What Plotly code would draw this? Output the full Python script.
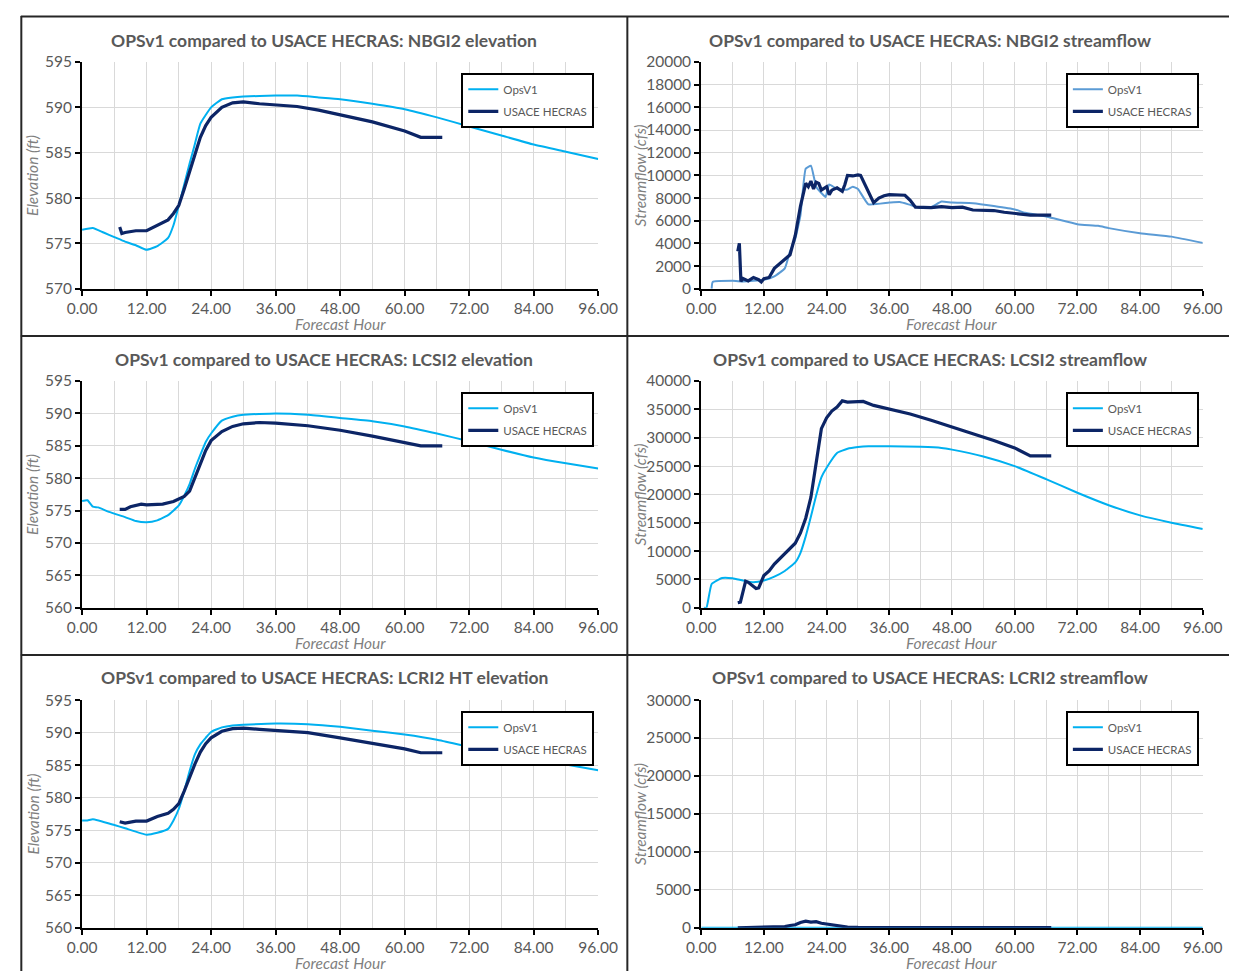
import plotly.graph_objects as go

W, H = 1249, 979

# ---------------- DATA ----------------
# NBGI2 elevation
nbgi2_elev_ops_h = [0, 2, 4, 6, 8, 10, 12, 14, 16, 17, 18, 19, 20, 21, 22, 24, 26, 28, 30, 36, 40, 44, 48, 54, 60, 66, 72, 78, 84, 90, 96]
nbgi2_elev_ops = [576.5, 576.7, 576.2, 575.7, 575.2, 574.8, 574.3, 574.7, 575.6, 577.0, 579.2, 581.5, 583.8, 586.0, 588.2, 590.0, 590.9, 591.1, 591.2, 591.3, 591.3, 591.1, 590.9, 590.4, 589.8, 588.9, 587.9, 586.9, 585.9, 585.1, 584.3]
nbgi2_elev_hec_h = [7, 7.4, 8, 10, 12, 14, 16, 17, 18, 19, 20, 21, 22, 23, 24, 26, 28, 30, 33, 36, 40, 44, 48, 54, 60, 63, 67]
nbgi2_elev_hec = [576.8, 576.1, 576.2, 576.4, 576.4, 577.0, 577.6, 578.3, 579.2, 581.0, 582.8, 584.8, 586.7, 588.0, 588.9, 590.0, 590.5, 590.6, 590.4, 590.3, 590.1, 589.7, 589.2, 588.4, 587.4, 586.7, 586.7]

# NBGI2 streamflow
nbgi2_q_ops_h = [2, 2.2, 6, 8, 10, 12, 14, 16, 17, 18, 19, 20, 21, 22, 23, 23.8, 24.5, 26, 28, 29, 30, 32, 36, 38, 40, 42, 44, 46, 48, 52, 56, 60, 62, 66, 68, 72, 76, 78, 84, 90, 96]
nbgi2_q_ops = [0, 600, 700, 650, 700, 800, 1100, 1800, 3300, 4400, 6500, 10600, 10850, 9000, 8450, 8100, 9200, 8800, 8750, 9000, 8800, 7450, 7600, 7650, 7400, 7150, 7200, 7700, 7600, 7550, 7300, 7000, 6700, 6380, 6150, 5700, 5550, 5350, 4900, 4600, 4050]
nbgi2_q_hec_h = [7, 7.3, 7.6, 8, 9, 10, 11, 11.5, 12, 13, 14, 15, 16, 17, 18, 19, 20, 20.5, 21, 21.5, 22, 22.5, 23, 24, 24.5, 25, 26, 27, 27.5, 28, 29, 30, 30.5, 31, 33, 34, 35, 36, 39, 40, 41, 44, 46, 48, 50, 52, 56, 58, 60, 62, 63, 67]
nbgi2_q_hec = [3300, 4000, 650, 900, 700, 1000, 800, 600, 900, 1000, 1800, 2200, 2550, 3000, 4700, 7300, 9300, 9000, 9500, 8800, 9400, 9300, 8700, 9000, 8300, 8700, 8900, 8600, 9200, 10000, 9950, 10050, 10000, 9500, 7600, 8000, 8200, 8300, 8250, 7800, 7200, 7150, 7250, 7150, 7200, 6950, 6900, 6750, 6650, 6600, 6500, 6500]

# LCSI2 elevation
lcsi2_elev_ops_h = [0, 1, 2, 3, 5, 8, 10, 12, 14, 16, 18, 19, 20, 21, 22, 23, 24, 26, 28, 30, 36, 42, 48, 54, 60, 66, 72, 78, 84, 90, 96]
lcsi2_elev_ops = [576.5, 576.6, 575.6, 575.5, 574.8, 574.0, 573.4, 573.2, 573.5, 574.3, 575.8, 577.3, 579.1, 581.5, 583.6, 585.6, 586.9, 588.9, 589.5, 589.8, 590.0, 589.8, 589.3, 588.8, 588.0, 586.9, 585.7, 584.4, 583.2, 582.3, 581.5]
lcsi2_elev_hec_h = [7, 8, 9, 11, 12, 15, 17, 19, 20, 21, 22, 23, 24, 26, 28, 30, 33, 36, 42, 48, 54, 60, 63, 67]
lcsi2_elev_hec = [575.2, 575.2, 575.6, 576.0, 575.9, 576.0, 576.4, 577.2, 578.0, 580.1, 582.4, 584.3, 585.8, 587.2, 588.0, 588.4, 588.6, 588.5, 588.1, 587.4, 586.5, 585.5, 585.0, 585.0]

# LCSI2 streamflow
lcsi2_q_ops_h = [0.5, 1, 2, 4, 6, 8, 10, 12, 14, 16, 18, 19, 20, 21, 22, 23, 24, 26, 28, 30, 32, 36, 42, 46, 48, 54, 60, 66, 72, 78, 84, 90, 96]
lcsi2_q_ops = [0, 0, 4200, 5250, 5200, 4800, 4500, 4800, 5500, 6500, 8000, 9700, 12600, 16100, 19800, 23000, 24700, 27300, 28050, 28350, 28500, 28500, 28400, 28200, 27900, 26700, 25000, 22700, 20300, 18100, 16300, 15000, 13900]
lcsi2_q_hec_h = [7, 7.5, 8.5, 9, 10.5, 11, 12, 13, 14, 16, 18, 19, 20, 21, 22, 23, 24, 25, 26, 27, 28, 30, 31, 33, 36, 40, 44, 48, 52, 56, 60, 63, 67]
lcsi2_q_hec = [900, 1000, 4700, 4500, 3400, 3500, 5700, 6500, 7700, 9600, 11400, 13200, 15800, 19500, 25300, 31600, 33500, 34700, 35400, 36500, 36300, 36300, 36400, 35700, 35100, 34200, 33100, 31900, 30800, 29500, 28200, 26800, 26800]

# LCRI2 HT elevation
lcri2_elev_ops_h = [0, 1, 2, 6, 8, 12, 14, 16, 17, 18, 19, 20, 21, 22, 23, 24, 26, 28, 30, 36, 42, 48, 54, 60, 66, 72, 78, 84, 90, 96]
lcri2_elev_ops = [576.5, 576.5, 576.7, 575.8, 575.3, 574.3, 574.6, 575.2, 576.5, 578.3, 581.0, 584.1, 586.7, 588.2, 589.2, 590.1, 590.8, 591.1, 591.2, 591.4, 591.3, 590.9, 590.3, 589.7, 588.9, 587.8, 586.8, 585.9, 585.1, 584.2]
lcri2_elev_hec_h = [7, 8, 10, 12, 14, 16, 17, 18, 19, 20, 21, 22, 23, 24, 26, 28, 30, 33, 36, 42, 48, 54, 60, 63, 67]
lcri2_elev_hec = [576.3, 576.1, 576.4, 576.4, 577.1, 577.6, 578.2, 579.1, 581.0, 583.2, 585.2, 587.0, 588.3, 589.2, 590.2, 590.6, 590.7, 590.5, 590.3, 590.0, 589.2, 588.4, 587.5, 586.9, 586.9]

# LCRI2 streamflow
lcri2_q_ops_h = [0, 12, 24, 36, 48, 60, 72, 84, 96]
lcri2_q_ops = [0, 0, 0, 0, 0, 0, 0, 0, 0]
lcri2_q_hec_h = [7, 12, 14, 16, 17, 18, 19, 20, 21, 22, 23, 24, 25, 26, 28, 30, 36, 48, 60, 67]
lcri2_q_hec = [0, 100, 150, 150, 300, 400, 700, 870, 750, 800, 600, 500, 450, 250, 100, 50, 30, 20, 30, 30]

titles = [
    "OPSv1 compared to USACE HECRAS: NBGI2 elevation",
    "OPSv1 compared to USACE HECRAS: NBGI2 streamflow",
    "OPSv1 compared to USACE HECRAS: LCSI2 elevation",
    "OPSv1 compared to USACE HECRAS: LCSI2 streamflow",
    "OPSv1 compared to USACE HECRAS: LCRI2 HT elevation",
    "OPSv1 compared to USACE HECRAS: LCRI2 streamflow",
]
y_titles = ["Elevation (ft)", "Streamflow (cfs)"] * 3
x_title = "Forecast Hour"
series_names = ["OpsV1", "USACE HECRAS"]
y_ranges = [[570, 595], [0, 20000], [560, 595], [0, 40000], [560, 595], [0, 30000]]
y_dticks = [5, 2000, 5, 5000, 5, 5000]

panels = [
    (nbgi2_elev_ops_h, nbgi2_elev_ops, nbgi2_elev_hec_h, nbgi2_elev_hec),
    (nbgi2_q_ops_h, nbgi2_q_ops, nbgi2_q_hec_h, nbgi2_q_hec),
    (lcsi2_elev_ops_h, lcsi2_elev_ops, lcsi2_elev_hec_h, lcsi2_elev_hec),
    (lcsi2_q_ops_h, lcsi2_q_ops, lcsi2_q_hec_h, lcsi2_q_hec),
    (lcri2_elev_ops_h, lcri2_elev_ops, lcri2_elev_hec_h, lcri2_elev_hec),
    (lcri2_q_ops_h, lcri2_q_ops, lcri2_q_hec_h, lcri2_q_hec),
]

# ---------------- STYLE ----------------
OPS_COLOR = "#00B0F0"
OPS_COLOR_ALT = "#5B9BD5"
HEC_COLOR = "#0C2566"
TXT = "#595959"
GRID = "#D9D9D9"
FONT = "Lato"

# pixel layout
col_x = [(69, 600), (706, 1222)]
row_y = [(53, 284), (378, 609), (703, 935)]
panel_cx = [318, 941]
title_y = [31, 356, 680]


def px(x):
    return x / W


def py(y):
    return 1 - y / H


fig = go.Figure()
annotations = []
layout = {}

for i, (oh, ov, hh, hv) in enumerate(panels):
    r, c = divmod(i, 2)
    n = i + 1
    xa = "x" if n == 1 else f"x{n}"
    ya = "y" if n == 1 else f"y{n}"
    lg = "legend" if n == 1 else f"legend{n}"
    ops_col = OPS_COLOR_ALT if i == 1 else OPS_COLOR
    fig.add_trace(go.Scatter(x=oh, y=ov, mode="lines", name=series_names[0],
                             line=dict(color=ops_col, width=2, shape="spline", smoothing=0.4),
                             xaxis=xa, yaxis=ya, legend=lg, legendgroup=f"ops{n}"))
    fig.add_trace(go.Scatter(x=hh, y=hv, mode="lines", name=series_names[1],
                             line=dict(color=HEC_COLOR, width=3.2), xaxis=xa, yaxis=ya,
                             legend=lg, legendgroup=f"hec{n}"))

    x0, x1 = col_x[c]
    y0, y1 = row_y[r]
    xk = "xaxis" if n == 1 else f"xaxis{n}"
    yk = "yaxis" if n == 1 else f"yaxis{n}"
    layout[xk] = dict(
        domain=[px(x0), px(x1)], anchor=ya, range=[0, 96], dtick=12, tick0=0,
        tickformat=".2f", showgrid=True, gridcolor=GRID, gridwidth=1,
        minor=dict(dtick=6, tick0=0, showgrid=True, gridcolor=GRID, gridwidth=1, ticks=""),
        showline=True, linecolor="black", linewidth=2, ticks="outside", ticklen=5,
        tickwidth=2, tickcolor="black", zeroline=False,
        tickfont=dict(family=FONT, size=15.5, color=TXT), fixedrange=True,
    )
    layout[yk] = dict(
        domain=[py(y1), py(y0)], anchor=xa, range=y_ranges[i], dtick=y_dticks[i],
        tickformat="d",
        showgrid=True, gridcolor=GRID, gridwidth=1, showline=True, linecolor="black",
        linewidth=2, ticks="outside", ticklen=5, tickwidth=2, tickcolor="black",
        zeroline=False, tickfont=dict(family=FONT, size=15.5, color=TXT), fixedrange=True,
    )
    # legend box inside plot area, top right
    layout[lg] = dict(
        x=px(x1 - 4), y=py(y0 + 11), xanchor="right", yanchor="top",
        bgcolor="white", bordercolor="black", borderwidth=2,
        font=dict(family=FONT, size=11.5, color=TXT), tracegroupgap=3,
        itemwidth=30, traceorder="grouped",
    )
    # title
    annotations.append(dict(text=f"<b>{titles[i]}</b>", x=px(panel_cx[c]), y=py(title_y[r]),
                            xref="paper", yref="paper", showarrow=False, xanchor="center",
                            yanchor="middle", font=dict(family=FONT, size=17.5, color=TXT)))
    # x-axis title
    annotations.append(dict(text=f"<i>{x_title}</i>", x=px((x0 + x1) / 2), y=py(y1 + 36),
                            xref="paper", yref="paper", showarrow=False, xanchor="center",
                            yanchor="middle", font=dict(family=FONT, size=15.5, color="#7F7F7F")))
    # y-axis title
    ytx = 18 if c == 0 else 643
    annotations.append(dict(text=f"<i>{y_titles[i]}</i>", x=px(ytx), y=py((y0 + y1) / 2),
                            xref="paper", yref="paper", showarrow=False, xanchor="center",
                            yanchor="middle", textangle=-90,
                            font=dict(family=FONT, size=15.5, color="#7F7F7F")))

# panel borders
BORDER = "#262626"
shapes = [
    dict(type="line", xref="paper", yref="paper", x0=px(6), x1=1, y0=py(6.5), y1=py(6.5),
         line=dict(color=BORDER, width=2)),
    dict(type="line", xref="paper", yref="paper", x0=px(6.5), x1=px(6.5), y0=0, y1=py(6),
         line=dict(color=BORDER, width=2)),
    dict(type="line", xref="paper", yref="paper", x0=px(630), x1=px(630), y0=0, y1=py(6),
         line=dict(color=BORDER, width=2)),
    dict(type="line", xref="paper", yref="paper", x0=px(6), x1=1, y0=py(332), y1=py(332),
         line=dict(color=BORDER, width=2)),
    dict(type="line", xref="paper", yref="paper", x0=px(6), x1=1, y0=py(657), y1=py(657),
         line=dict(color=BORDER, width=2)),
]

fig.update_layout(
    width=W, height=H, margin=dict(l=0, r=0, t=0, b=0),
    paper_bgcolor="white", plot_bgcolor="white",
    annotations=annotations, shapes=shapes, showlegend=True,
    **layout,
)

fig.write_html("out.html", config={"displayModeBar": False})
